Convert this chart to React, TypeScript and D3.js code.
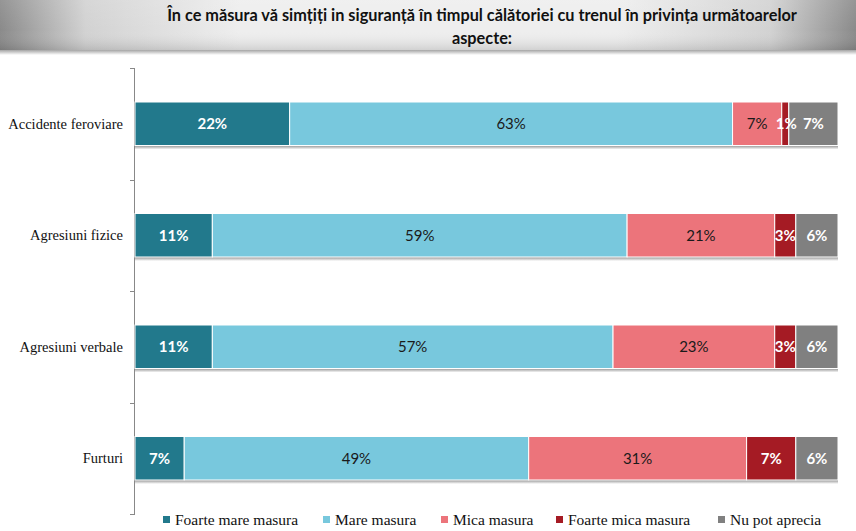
import React from "react";
import * as d3 from "d3";

const categories = ["Accidente feroviare", "Agresiuni fizice", "Agresiuni verbale", "Furturi"];
const seriesNames = ["Foarte mare masura", "Mare masura", "Mica masura", "Foarte mica masura", "Nu pot aprecia"];
const foarteMare = [22, 11, 11, 7];
const mare = [63, 59, 57, 49];
const mica = [7, 21, 23, 31];
const foarteMica = [1, 3, 3, 7];
const nuPot = [7, 6, 6, 6];
const colors = ["#22798C", "#78C8DD", "#EC747B", "#A51B24", "#808080"];
const labelColors = ["#ffffff", "#1a1a1a", "#1a1a1a", "#ffffff", "#ffffff"];
const title1 = "În ce măsura vă simțiți in siguranță în timpul călătoriei cu trenul în privința următoarelor";
const title2 = "aspecte:";

const W = 856, H = 531;
const left = 135, right = 838, top = 68, bottom = 514;

export default function App() {
  const series = [foarteMare, mare, mica, foarteMica, nuPot];
  const x = d3.scaleLinear().domain([0, 100]).range([left, right]);
  const y = d3.scaleBand().domain(categories).range([top, bottom]).paddingInner(0.61).paddingOuter(0.305);
  const rows = categories.map((c, i) => {
    let acc = 0;
    return series.map((s, k) => {
      const x0 = acc;
      acc += s[i];
      return { k, x0, x1: acc, v: s[i] };
    });
  });
  const ticks = d3.range(categories.length + 1).map((i) => top + (i * (bottom - top)) / categories.length);
  const legendX = [163, 323, 441, 556, 718];
  const labelFont = "Lato, 'Open Sans', sans-serif";
  const serif = "'Liberation Serif', 'DejaVu Serif', serif";
  return (
    <svg width={W} height={H} style={{ position: "absolute", left: 0, top: 0, display: "block" }}>
      <defs>
        <linearGradient id="ban" x1="0" x2="1" y1="0" y2="0">
          <stop offset="0" stopColor="#8a8a8a" />
          <stop offset="0.1" stopColor="#d2d2d2" />
          <stop offset="0.28" stopColor="#eeeeee" />
          <stop offset="0.72" stopColor="#eeeeee" />
          <stop offset="0.9" stopColor="#d2d2d2" />
          <stop offset="1" stopColor="#8a8a8a" />
        </linearGradient>
        <linearGradient id="banv" x1="0" x2="0" y1="0" y2="1">
          <stop offset="0" stopColor="#ffffff" stopOpacity="0.1" />
          <stop offset="0.6" stopColor="#ffffff" stopOpacity="0" />
          <stop offset="1" stopColor="#000000" stopOpacity="0.12" />
        </linearGradient>
        <linearGradient id="shadow" x1="0" x2="0" y1="0" y2="1">
          <stop offset="0" stopColor="#777" stopOpacity="0.8" />
          <stop offset="1" stopColor="#777" stopOpacity="0" />
        </linearGradient>
      </defs>
      <rect x={0} y={0} width={W} height={H} fill="#ffffff" />
      <rect x={0} y={49} width={W} height={6} fill="url(#shadow)" />
      <rect x={0} y={0} width={W} height={50} fill="url(#ban)" />
      <rect x={0} y={0} width={W} height={50} fill="url(#banv)" />
      <text x={482} y={21} textAnchor="middle" fontFamily={labelFont} fontWeight="bold" fontSize={16.3} fill="#111">{title1}</text>
      <text x={482} y={44} textAnchor="middle" fontFamily={labelFont} fontWeight="bold" fontSize={16.3} fill="#111">{title2}</text>

      <line x1={left - 0.5} x2={left - 0.5} y1={top} y2={bottom} stroke="#888" />
      {ticks.map((t, i) => (
        <line key={i} x1={left - 5} x2={left} y1={Math.round(t) + 0.5} y2={Math.round(t) + 0.5} stroke="#888" />
      ))}

      {categories.map((c, i) => {
        const by = y(c)!;
        const bh = y.bandwidth();
        return (
          <g key={c}>
            <rect x={x(0)} y={by + bh} width={x(100) - x(0)} height={4} fill="url(#shadow)" />
            {rows[i].map((d) => (
              <rect key={d.k} x={x(d.x0)} y={by} width={x(d.x1) - x(d.x0)} height={bh} fill={colors[d.k]} stroke="#ffffff" strokeWidth={1} />
            ))}
            {rows[i].map((d) => (
              <text key={"t" + d.k} x={(x(d.x0) + x(d.x1)) / 2 + (d.v === 1 ? 1 : 0)} y={by + bh / 2 + 5.5}
                textAnchor="middle" fontFamily={labelFont} fontSize={15}
                fontWeight={labelColors[d.k] === "#ffffff" ? "bold" : "normal"} fill={labelColors[d.k]}>
                {d.v + "%"}
              </text>
            ))}
            <text x={123} y={by + bh / 2 + 5} textAnchor="end" fontFamily={serif} fontSize={14.5} fill="#111">{c}</text>
          </g>
        );
      })}

      {seriesNames.map((s, k) => (
        <g key={s}>
          <rect x={legendX[k]} y={516} width={7} height={7} fill={colors[k]} />
          <text x={legendX[k] + 12} y={525} fontFamily={serif} fontSize={15.5} fill="#111">{s}</text>
        </g>
      ))}
    </svg>
  );
}
